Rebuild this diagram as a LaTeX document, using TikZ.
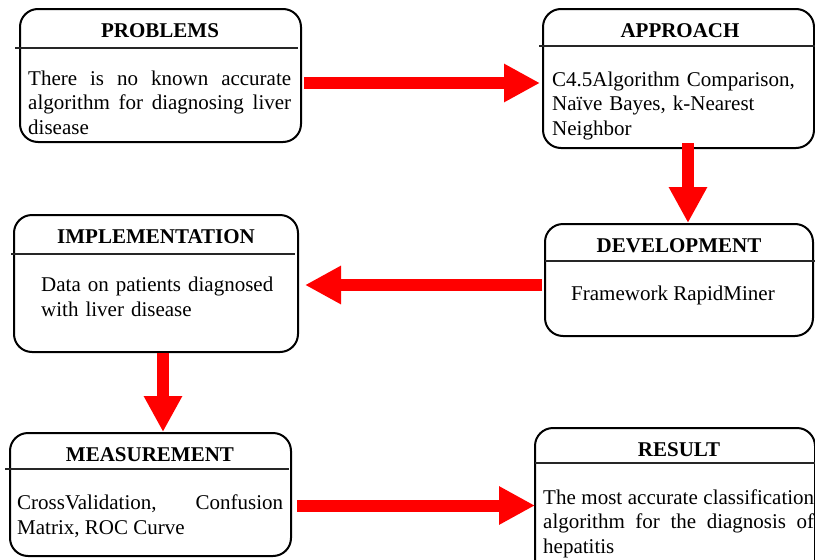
\documentclass[tikz,border=0pt]{standalone}
\usepackage{fontspec}
\setmainfont{Liberation Serif}
\usetikzlibrary{arrows.meta,calc}
\hyphenpenalty=10000
\exhyphenpenalty=10000
\tikzset{
  box/.style={draw=black, line width=2pt, rounded corners=18pt, inner sep=0pt, fill=none},
  divider/.style={draw=black!85, line width=1.3pt},
  ttl/.style={font=\bfseries\fontsize{21}{24.5}\selectfont, anchor=base, inner sep=0pt},
  body/.style={font=\fontsize{21}{24.5}\selectfont, anchor=base west, inner sep=0pt},
  widebody/.style={font=\fontsize{21}{25.5}\selectfont, anchor=base west, inner sep=0pt},
  bigarrow/.style={draw=red, line width=12pt, -{Triangle[length=36pt,width=36pt]}}
}
\begin{document}
\begin{tikzpicture}[x=1pt,y=-1pt]
\path[use as bounding box, clip] (0,0) rectangle (815,560);
% boxes
\node[box, minimum width=281pt, minimum height=133pt] (p) at (160.5,75.5) {};
\node[box, minimum width=271pt, minimum height=139pt] (a) at (678.5,78.5) {};
\node[box, minimum width=268pt, minimum height=112pt] (d) at (679,280) {};
\node[box, minimum width=284pt, minimum height=137pt] (i) at (156,283.5) {};
\node[box, minimum width=281pt, minimum height=123pt] (m) at (150.5,494.5) {};
\node[box, minimum width=280pt, minimum height=152pt] (r) at (675,504) {};
% dividers
\draw[divider] (15,48) -- (298,48);
\draw[divider] (539,46) -- (815,46);
\draw[divider] (545,261) -- (815,261);
\draw[divider] (11,254) -- (295,254);
\draw[divider] (5,469) -- (289,469);
\draw[divider] (535,463) -- (815,463);
% titles
\node[ttl] (pt) at (160,37) {PROBLEMS};
\node[ttl] (at) at (680,37) {APPROACH};
\node[ttl] (it) at (156,243) {IMPLEMENTATION};
\node[ttl] (dt) at (679,252) {DEVELOPMENT};
\node[ttl] (mt) at (150,461) {MEASUREMENT};
\node[ttl] (rt) at (679,456) {RESULT};
% bodies
\node[body, text width=263pt, align=justify] (pb) at (28,85)
  {There is no known accurate\linebreak algorithm for diagnosing liver\linebreak disease};
\node[body, text width=260pt, align=left] (ab) at (552,86)
  {C4.5Algorithm Comparison,\\ Naïve Bayes, k-Nearest\\ Neighbor};
\node[widebody, text width=260pt, align=left] (ib) at (41,291)
  {Data on patients diagnosed\\ with liver disease};
\node[body] (db) at (571,300) {Framework RapidMiner};
\node[widebody, text width=266pt, align=justify] (mb) at (17,509)
  {CrossValidation, Confusion\linebreak Matrix, ROC Curve};
\node[body, text width=271pt, align=justify] (rb) at (543,504)
  {The most accurate classification\linebreak algorithm for the diagnosis of\linebreak hepatitis};
% arrows
\draw[bigarrow] ($(p.east)+(2,7.5)$) -- ($(a.west)+(-2,4.5)$);
\draw[bigarrow] ($(a.south)+(9.5,-6)$) -- ($(d.north)+(9,0)$);
\draw[bigarrow] ($(d.west)+(-2,5)$) -- ($(i.east)+(6,1.5)$);
\draw[bigarrow] ($(i.south)+(7,0)$) -- ($(m.north)+(12.5,0)$);
\draw[bigarrow] ($(m.east)+(5,11)$) -- ($(r.west)+(1,1.5)$);
\end{tikzpicture}
\end{document}
